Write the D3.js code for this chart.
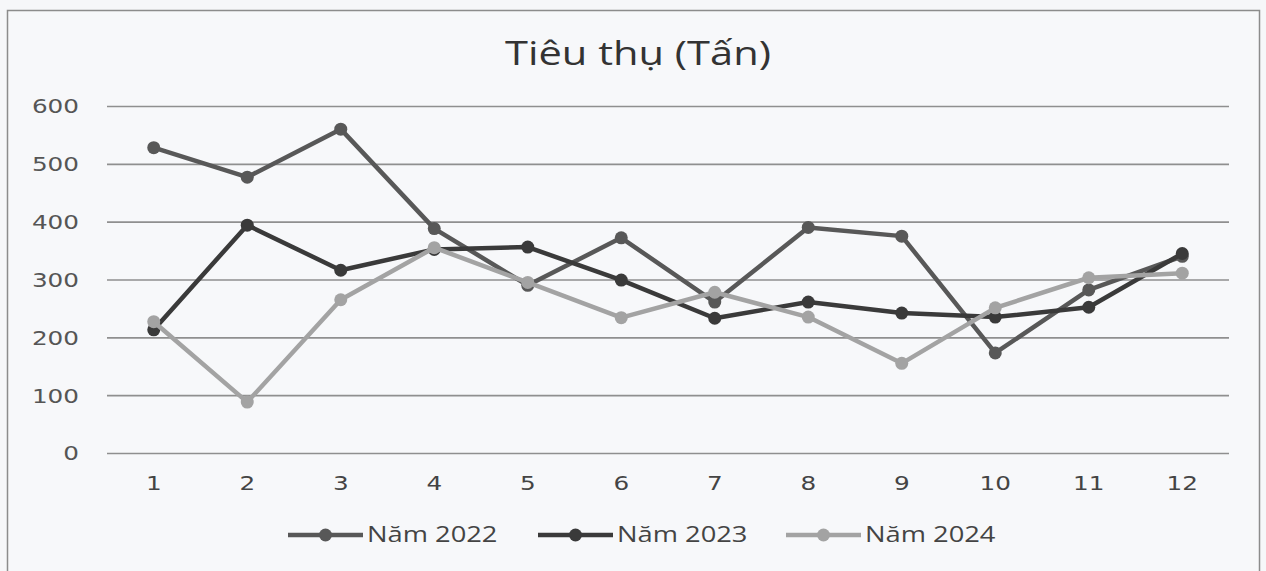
<!DOCTYPE html>
<html>
<head>
<meta charset="utf-8">
<script src="https://cdn.jsdelivr.net/npm/d3@7"></script>
<style>
  html, body { margin: 0; padding: 0; background: #f6f7f9; }
</style>
</head>
<body>
<div id="chart"></div>
<script>
// Data.
const months = ["1", "2", "3", "4", "5", "6", "7", "8", "9", "10", "11", "12"];
const seriesNames = ["Năm 2022", "Năm 2023", "Năm 2024"];
const values2022 = [528, 477, 560, 388, 290, 372, 261, 390, 375, 173, 282, 340];
const values2023 = [213, 394, 316, 352, 356, 299, 233, 261, 242, 235, 252, 345];
const values2024 = [227, 88, 265, 355, 295, 234, 278, 235, 155, 251, 303, 311];
const yTicks = [0, 100, 200, 300, 400, 500, 600];
const titleText = "Tiêu thụ (Tấn)";

function createLineChart(width, height) {
    // Chart area (the scan is stretched sideways, so text gets scaled too).
    const plotLeft = 107;
    const plotRight = 1229;
    const plotTop = 106;
    const plotBottom = 453;
    const stretch = 1.3;

    const colors = ["#585858", "#3a3a3a", "#a3a3a3"];
    const dataSets = [values2022, values2023, values2024];

    const x = d3.scaleBand()
        .domain(months)
        .range([plotLeft, plotRight]);

    const y = d3.scaleLinear()
        .domain([0, 600])
        .range([plotBottom, plotTop]);

    const svg = d3.create("svg")
        .attr("width", width)
        .attr("height", height)
        .attr("viewBox", [0, 0, width, height]);

    // Frame of the chart.
    svg.append("rect")
        .attr("x", 7.5)
        .attr("y", 10.5)
        .attr("width", 1252)
        .attr("height", 575)
        .attr("fill", "#f7f8fa")
        .attr("stroke", "#8c8c8c")
        .attr("stroke-width", 1.5);

    // Title.
    svg.append("text")
        .attr("transform", `translate(638,65) scale(${stretch},1)`)
        .attr("text-anchor", "middle")
        .attr("font-family", "'Open Sans', sans-serif")
        .attr("font-size", 32)
        .attr("fill", "#333")
        .text(titleText);

    // Y axis with grid lines.
    svg.append("g")
        .attr("transform", `translate(${plotLeft},0)`)
        .call(d3.axisLeft(y).tickValues(yTicks).tickSize(-(plotRight - plotLeft)).tickPadding(0))
        .call(g => g.select(".domain").remove())
        .call(g => g.selectAll(".tick line")
            .attr("stroke", "#8f8f8f")
            .attr("stroke-width", 1.6))
        .call(g => g.selectAll(".tick text")
            .attr("x", -28 / stretch)
            .attr("dy", "0.36em")
            .attr("transform", `scale(${stretch},1)`)
            .attr("font-family", "'DejaVu Sans', sans-serif")
            .attr("font-size", 19)
            .attr("fill", "#555"));

    // X axis labels.
    svg.append("g")
        .attr("transform", `translate(0,${plotBottom})`)
        .call(d3.axisBottom(x).tickSize(0))
        .call(g => g.select(".domain").remove())
        .call(g => g.selectAll(".tick text")
            .attr("y", 24)
            .attr("dy", "0.71em")
            .attr("transform", `scale(${stretch},1)`)
            .attr("font-family", "'DejaVu Sans', sans-serif")
            .attr("font-size", 19)
            .attr("fill", "#444"));

    const line = d3.line()
        .x((d, i) => x(months[i]) + x.bandwidth() / 2)
        .y(d => y(d));

    // Lines and markers.
    dataSets.forEach((dataSet, i) => {
        svg.append("path")
            .datum(dataSet)
            .attr("fill", "none")
            .attr("stroke", colors[i])
            .attr("stroke-width", 4.5)
            .attr("stroke-linejoin", "round")
            .attr("d", line);

        svg.append("g")
            .selectAll("circle")
            .data(dataSet)
            .join("circle")
            .attr("cx", (d, j) => x(months[j]) + x.bandwidth() / 2)
            .attr("cy", d => y(d))
            .attr("r", 6.5)
            .attr("fill", colors[i]);
    });

    // Legend.
    const legendX = [288, 538, 786];
    const legendY = 535;
    const legend = svg.selectAll(".legend")
        .data(seriesNames)
        .join("g")
        .attr("class", "legend")
        .attr("transform", (d, i) => `translate(${legendX[i]},${legendY})`);

    legend.append("line")
        .attr("x1", 0)
        .attr("x2", 75)
        .attr("stroke", (d, i) => colors[i])
        .attr("stroke-width", 4.5);

    legend.append("circle")
        .attr("cx", 37.5)
        .attr("r", 6.5)
        .attr("fill", (d, i) => colors[i]);

    legend.append("text")
        .attr("transform", `translate(79,0) scale(${stretch},1)`)
        .attr("dy", "0.35em")
        .attr("font-family", "'Open Sans', sans-serif")
        .attr("font-size", 21)
        .attr("fill", "#444")
        .text(d => d);

    return svg.node();
}

document.getElementById("chart").appendChild(createLineChart(1266, 571));
</script>
</body>
</html>
